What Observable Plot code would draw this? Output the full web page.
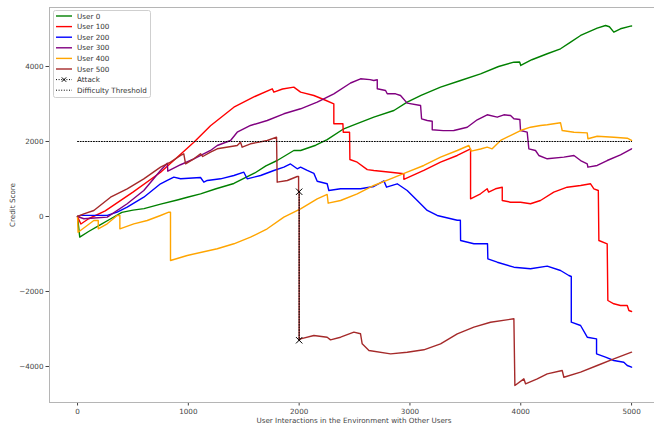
<!DOCTYPE html>
<html>
<head>
<meta charset="utf-8">
<script src="https://cdn.jsdelivr.net/npm/d3@7"></script>
<script src="https://cdn.jsdelivr.net/npm/@observablehq/plot@0.6"></script>
<style>
  html, body { margin: 0; padding: 0; background: #fff; }
  #chart { width: 654px; height: 426px; overflow: hidden; }
</style>
</head>
<body>
<div id="chart"></div>
<script>
// ---- data ----
const user0X = [0, 20, 100, 200, 300, 400, 500, 600, 750, 900, 1000, 1110, 1250, 1411, 1600, 1700, 1802, 1952, 2013, 2150, 2253, 2403, 2500, 2674, 2855, 2975, 3100, 3276, 3450, 3637, 3800, 3938, 3990, 4000, 4100, 4239, 4359, 4450, 4540, 4690, 4765, 4800, 4840, 4900, 4991, 5000];
const user0Y = [0, -550, -400, -230, -60, 110, 170, 210, 330, 440, 520, 605, 740, 880, 1160, 1350, 1493, 1760, 1760, 1900, 2050, 2339, 2450, 2648, 2827, 3048, 3230, 3449, 3620, 3805, 4000, 4115, 4120, 4027, 4180, 4339, 4472, 4650, 4827, 5022, 5094, 5060, 4915, 5006, 5075, 5080];

const user100X = [0, 30, 100, 250, 500, 750, 1050, 1200, 1411, 1600, 1757, 1772, 1850, 1952, 2013, 2133, 2238, 2313, 2313, 2395, 2398, 2455, 2458, 2524, 2615, 2674, 2825, 2945, 2945, 3125, 3276, 3427, 3547, 3547, 3637, 3697, 3710, 3772, 3833, 3833, 3908, 3998, 4088, 4178, 4298, 4419, 4540, 4630, 4660, 4700, 4705, 4780, 4786, 4840, 4900, 4961, 4976, 5000];
const user100Y = [0, -200, -60, 150, 650, 1180, 1980, 2420, 2915, 3200, 3405, 3315, 3400, 3449, 3315, 3227, 3100, 3005, 2472, 2472, 2248, 2248, 1520, 1448, 1250, 1227, 1181, 1139, 990, 1227, 1448, 1627, 1800, 472, 605, 739, 650, 739, 781, 427, 381, 381, 339, 427, 648, 781, 827, 872, 739, 693, -640, -728, -2240, -2328, -2373, -2373, -2507, -2533];

const user200X = [0, 27, 147, 268, 358, 448, 598, 749, 810, 869, 930, 1110, 1140, 1171, 1291, 1411, 1501, 1531, 1652, 1772, 1862, 1922, 1983, 2013, 2073, 2133, 2163, 2253, 2268, 2374, 2554, 2674, 2765, 2789, 2885, 2975, 3066, 3156, 3246, 3427, 3455, 3457, 3577, 3700, 3703, 3788, 3938, 4088, 4239, 4359, 4434, 4456, 4456, 4540, 4600, 4684, 4684, 4765, 4840, 4930, 4961, 5000];
const user200Y = [0, 30, 30, 30, 115, 248, 515, 872, 960, 1048, 1005, 1040, 915, 960, 1005, 1093, 1181, 1005, 1093, 1227, 1315, 1400, 1272, 1315, 1227, 1150, 940, 872, 693, 739, 739, 800, 950, 781, 872, 693, 427, 160, 27, -100, -100, -640, -728, -728, -1128, -1219, -1352, -1395, -1325, -1440, -1573, -1600, -2819, -2907, -3219, -3262, -3662, -3752, -3840, -3886, -3974, -4019];

const user300X = [0, 57, 150, 268, 448, 598, 749, 810, 815, 930, 1050, 1200, 1261, 1381, 1441, 1561, 1712, 1862, 2013, 2163, 2313, 2464, 2554, 2640, 2674, 2705, 2705, 2780, 2795, 2870, 2915, 2975, 3096, 3105, 3156, 3201, 3201, 3300, 3396, 3517, 3607, 3697, 3788, 3848, 3908, 3938, 3992, 3998, 4058, 4073, 4133, 4163, 4239, 4389, 4480, 4540, 4600, 4606, 4690, 4780, 4900, 5000];
const user300Y = [0, -61, -40, -18, 339, 693, 1227, 1421, 1208, 1380, 1539, 1760, 1893, 2027, 2248, 2427, 2560, 2739, 2872, 3048, 3272, 3560, 3672, 3650, 3627, 3645, 3405, 3360, 3272, 3272, 3227, 3022, 2960, 2605, 2560, 2540, 2312, 2290, 2293, 2381, 2579, 2712, 2648, 2712, 2693, 2605, 2587, 2293, 2248, 1805, 1760, 1627, 1539, 1582, 1627, 1493, 1405, 1315, 1360, 1493, 1645, 1805];

const user400X = [0, 5, 87, 147, 187, 187, 268, 358, 382, 382, 508, 629, 749, 824, 839, 839, 990, 1200, 1261, 1411, 1561, 1712, 1862, 2013, 2163, 2253, 2262, 2374, 2524, 2674, 2825, 2975, 3125, 3276, 3427, 3532, 3553, 3637, 3697, 3742, 3818, 3938, 3998, 4088, 4178, 4239, 4359, 4374, 4480, 4600, 4606, 4690, 4840, 4961, 5000];
const user400Y = [0, -420, -240, -107, -107, -328, -195, 27, 27, -328, -195, -107, 27, 115, 115, -1173, -1040, -900, -861, -728, -552, -328, -18, 205, 472, 587, 355, 427, 605, 827, 1005, 1181, 1360, 1582, 1760, 1893, 1742, 1800, 1848, 1805, 2027, 2205, 2293, 2381, 2427, 2445, 2499, 2293, 2248, 2231, 2072, 2141, 2115, 2088, 2027];

const user500X = [0, 57, 147, 298, 448, 598, 749, 839, 930, 959, 975, 1050, 1110, 1130, 1200, 1261, 1441, 1471, 1486, 1561, 1712, 1796, 1802, 1893, 1983, 1995, 1995, 2000, 2000, 2013, 2133, 2253, 2283, 2374, 2494, 2554, 2569, 2630, 2825, 2975, 3125, 3276, 3427, 3577, 3727, 3938, 3947, 4028, 4043, 4149, 4239, 4374, 4389, 4540, 4690, 4840, 5000];
const user500Y = [0, 72, 160, 515, 739, 1005, 1315, 1448, 1627, 1672, 1405, 1539, 1672, 1600, 1715, 1805, 1893, 1982, 1848, 1939, 2027, 2115, 915, 960, 1067, 1067, 660, 660, -3300, -3262, -3174, -3219, -3289, -3219, -3085, -3128, -3395, -3573, -3662, -3619, -3555, -3395, -3128, -2952, -2819, -2728, -4507, -4329, -4462, -4329, -4195, -4107, -4286, -4152, -3974, -3795, -3619];

const attackX = [2000, 2000];
const attackY = [660, -3300];

const thresholdX = [0, 5000];
const thresholdValue = 2000;

const seriesNames = ["User 0", "User 100", "User 200", "User 300", "User 400", "User 500"];
const seriesColors = ["green", "red", "blue", "purple", "orange", "brown"];
const seriesX = [user0X, user100X, user200X, user300X, user400X, user500X];
const seriesY = [user0Y, user100Y, user200Y, user300Y, user400Y, user500Y];

const xTicks = [0, 1000, 2000, 3000, 4000, 5000];
const yTicks = [-4000, -2000, 0, 2000, 4000];

// ---- build table ----
const rows = [];
seriesNames.forEach((name, i) => {
  seriesX[i].forEach((x, j) => rows.push({series: name, x, y: seriesY[i][j], order: i}));
});
const attackRows = attackX.map((x, i) => ({x, y: attackY[i]}));
const thresholdRows = thresholdX.map(x => ({x, y: thresholdValue}));

const xDomain = [-253, 5207];
const yDomain = [-4960, 5573];
const spine = "#b5b5b5";

const lineMarks = seriesNames.map((name, i) =>
  Plot.line(rows.filter(d => d.series === name), {x: "x", y: "y", stroke: seriesColors[i], strokeWidth: 1.4})
);

const chart = Plot.plot({
  width: 654,
  height: 426,
  marginLeft: 49,
  marginRight: 0,
  marginTop: 7,
  marginBottom: 24,
  style: {fontFamily: "'DejaVu Sans', sans-serif", fontSize: "7.2px", color: "#444", background: "#fff"},
  x: {domain: xDomain, ticks: xTicks, tickSize: 3.5, tickPadding: 2.5, label: null, tickFormat: d3.format("d")},
  y: {domain: yDomain, ticks: yTicks, tickSize: 3.5, tickPadding: 2.5, label: null, tickFormat: d => (d < 0 ? "\u2212" + Math.abs(d) : String(d))},
  marks: [
    Plot.ruleX([xDomain[0]], {stroke: spine, strokeWidth: 1}),
    Plot.ruleY([yDomain[0], yDomain[1]], {stroke: spine, strokeWidth: 1}),
    ...lineMarks,
    Plot.line(attackRows, {x: "x", y: "y", stroke: "black", strokeWidth: 1, strokeDasharray: "1,1.6"}),
    Plot.dot(attackRows, {x: "x", y: "y", symbol: "times", r: 3, stroke: "black", strokeWidth: 1}),
    Plot.line(thresholdRows, {x: "x", y: "y", stroke: "black", strokeWidth: 1, strokeDasharray: "1,1.65"})
  ]
});

document.getElementById("chart").appendChild(chart);

const svg = d3.select(chart);

// axis titles
svg.append("text")
  .attr("x", 354).attr("y", 423)
  .attr("text-anchor", "middle")
  .attr("font-family", "'DejaVu Sans', sans-serif")
  .attr("font-size", "7.2px").attr("fill", "#444")
  .text("User Interactions in the Environment with Other Users");
svg.append("text")
  .attr("transform", "translate(15,205) rotate(-90)")
  .attr("text-anchor", "middle")
  .attr("font-family", "'DejaVu Sans', sans-serif")
  .attr("font-size", "7.2px").attr("fill", "#444")
  .text("Credit Score");

// legend
const lg = svg.append("g")
  .attr("font-family", "'DejaVu Sans', sans-serif")
  .attr("font-size", "7.2px")
  .attr("text-anchor", "start");
lg.append("rect").attr("x", 53.5).attr("y", 10.5).attr("width", 97).attr("height", 87)
  .attr("rx", 2).attr("fill", "white").attr("fill-opacity", 0.85)
  .attr("stroke", "#cfcfcf").attr("stroke-width", 1);
const legendItems = seriesNames.map((n, i) => ({label: n, color: seriesColors[i], kind: "line"}))
  .concat([{label: "Attack", color: "black", kind: "attack"}, {label: "Difficulty Threshold", color: "black", kind: "dotted"}]);
legendItems.forEach((it, i) => {
  const y = 16 + i * 10.6;
  const line = lg.append("line").attr("x1", 56).attr("x2", 72).attr("y1", y).attr("y2", y)
    .attr("stroke", it.color).attr("stroke-width", it.kind === "line" ? 1.4 : 1);
  if (it.kind !== "line") line.attr("stroke-dasharray", "1,1.6");
  if (it.kind === "attack") {
    lg.append("path").attr("d", `M${64-2.2},${y-2.2}L${64+2.2},${y+2.2}M${64-2.2},${y+2.2}L${64+2.2},${y-2.2}`)
      .attr("stroke", "black").attr("stroke-width", 1).attr("fill", "none");
  }
  lg.append("text").attr("x", 77).attr("y", y).attr("dy", "0.35em")
    .attr("text-anchor", "start").attr("fill", "#333").text(it.label);
});
</script>
</body>
</html>
